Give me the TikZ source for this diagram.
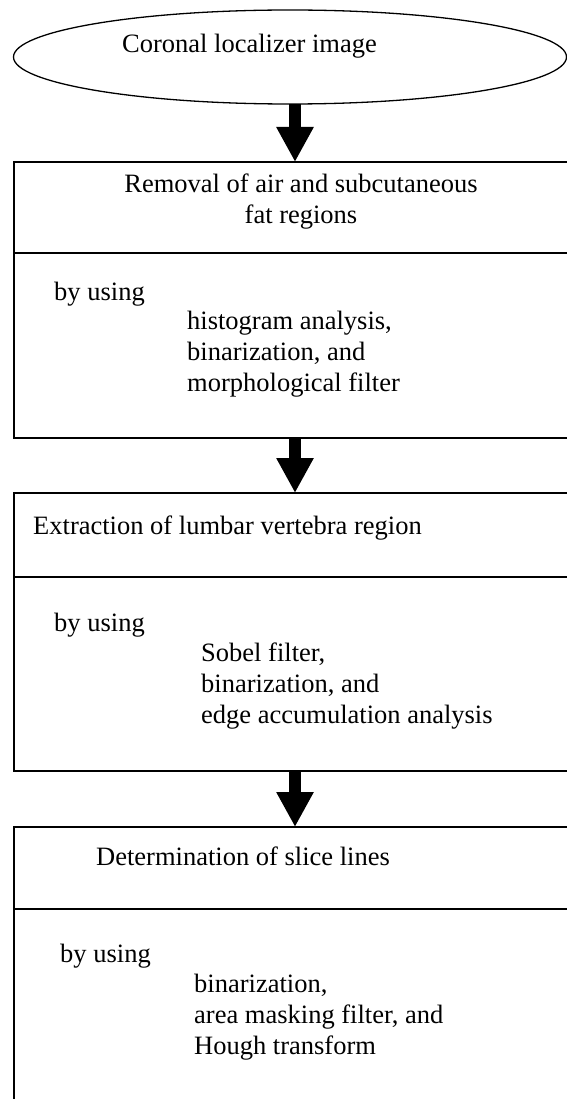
\documentclass[tikz,border=0pt]{standalone}
\usepackage{fontspec}
\setmainfont{Liberation Serif}
\usetikzlibrary{arrows.meta,shapes.geometric}

\tikzset{
  stepbox/.style={draw,line width=1.3pt,rectangle,anchor=north west,minimum width=576pt,inner sep=0pt,outer sep=0pt},
  txt/.style={inner sep=0pt,anchor=base west,align=left,font=\fontsize{26.5}{31}\selectfont},
  bigarrow/.style={line width=12pt,-{Triangle[width=35pt,length=35pt]}},
}

\begin{document}
\begin{tikzpicture}[x=1pt,y=-1pt]
  \useasboundingbox (0,0) rectangle (566,1099);
  \node[draw,ellipse,line width=1.3pt,minimum width=553pt,minimum height=94pt,inner sep=0pt,outer sep=0pt] (loc) at (290,57) {};
  \node[txt] (locText) at (122,53) {Coronal localizer image};

  % first step
  \node[stepbox,minimum height=91pt] (remHead) at (14,162) {};
  \node[stepbox,minimum height=185pt] (remBody) at (remHead.south west) {};
  \node[txt,anchor=base,align=center] (remTitle) at (301,224) {Removal of air and subcutaneous\\fat regions};
  \node[txt] (remBy) at (54,300) {by using};
  \node[txt] (remList) at (187,391) {histogram analysis,\\binarization, and\\morphological filter};

  % second step
  \node[stepbox,minimum height=84pt] (extHead) at (14,493) {};
  \node[stepbox,minimum height=194pt] (extBody) at (extHead.south west) {};
  \node[txt] (extTitle) at (33,534) {Extraction of lumbar vertebra region};
  \node[txt] (extBy) at (54,631) {by using};
  \node[txt] (extList) at (201,723) {Sobel filter,\\binarization, and\\edge accumulation analysis};

  % third step
  \node[stepbox,minimum height=82pt] (detHead) at (14,827) {};
  \node[stepbox,minimum height=206pt] (detBody) at (detHead.south west) {};
  \node[txt] (detTitle) at (96,865) {Determination of slice lines};
  \node[txt] (detBy) at (60,962) {by using};
  \node[txt] (detList) at (194,1054) {binarization,\\area masking filter, and\\Hough transform};

  % arrows
  \draw[bigarrow] ([xshift=5pt]loc.south) -- ([xshift=281pt]remHead.north west);
  \draw[bigarrow] ([xshift=281pt]remBody.south west) -- ([xshift=281pt]extHead.north west);
  \draw[bigarrow] ([xshift=281pt]extBody.south west) -- ([xshift=281pt]detHead.north west);
\end{tikzpicture}
\end{document}
